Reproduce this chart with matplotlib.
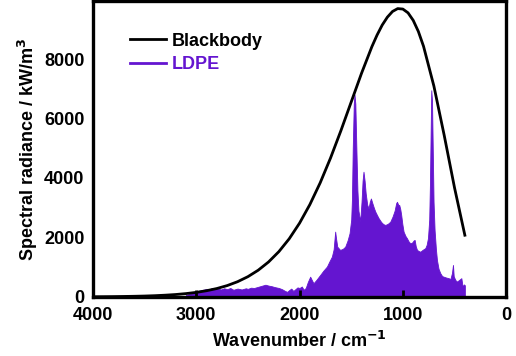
import matplotlib
matplotlib.use("Agg")
import matplotlib.pyplot as plt

plt.rcParams['font.family'] = ['Liberation Sans', 'DejaVu Sans']
plt.rcParams['font.weight'] = 'bold'

# Blackbody curve
bb_wn = [4000, 3900, 3800, 3700, 3600, 3500, 3400, 3300, 3200, 3100, 3000,
         2900, 2800, 2700, 2600, 2500, 2400, 2300, 2200, 2100, 2000, 1900,
         1800, 1700, 1600, 1500, 1400, 1300, 1250, 1200, 1150, 1100, 1050,
         1000, 950, 900, 850, 800, 700, 600, 500, 400]
bb_val = [5, 7, 10, 15, 21, 29, 41, 58, 80, 111, 152,
          208, 282, 381, 511, 680, 898, 1175, 1523, 1955, 2480, 3107,
          3839, 4672, 5588, 6556, 7522, 8415, 8805, 9143, 9409, 9601, 9697,
          9681, 9554, 9302, 8927, 8429, 7095, 5436, 3671, 2075]

# LDPE emission spectrum
ldpe_wn = [3100, 3060, 3020, 3000, 2980, 2950, 2920, 2900, 2870, 2850, 2820,
           2800, 2760, 2730, 2700, 2670, 2640, 2600, 2560, 2520, 2500, 2470,
           2440, 2400, 2360, 2330, 2300, 2270, 2240, 2200, 2170, 2140, 2120,
           2100, 2080, 2060, 2040, 2020, 2000, 1978, 1960, 1940, 1920, 1897,
           1880, 1865, 1840, 1800, 1770, 1735, 1710, 1687, 1670, 1660, 1655,
           1648, 1635, 1607, 1580, 1558, 1535, 1516, 1500, 1493, 1485, 1475,
           1468, 1460, 1450, 1440, 1430, 1413, 1400, 1390, 1381, 1370, 1360,
           1345, 1332, 1320, 1309, 1295, 1280, 1267, 1250, 1235, 1210, 1190,
           1170, 1145, 1122, 1100, 1080, 1065, 1057, 1045, 1035, 1025, 1016,
           1005, 993, 975, 960, 945, 928, 910, 895, 886, 875, 863, 845, 831,
           810, 783, 770, 757, 745, 738, 730, 725, 718, 710, 703, 693, 680,
           670, 655, 638, 620, 605, 580, 557, 540, 525, 515, 508, 500, 490,
           476, 460, 445, 434, 425, 418, 410, 402, 400]
ldpe_val = [60, 110, 170, 150, 200, 230, 250, 270, 240, 300, 280,
            290, 250, 290, 260, 300, 240, 280, 250, 290, 270, 310,
            300, 340, 380, 410, 380, 360, 330, 300, 260, 200, 170,
            230, 280, 200, 260, 320, 300, 350, 240, 300, 500, 680,
            560, 460, 560, 740, 880, 1020, 1200, 1355, 1600, 2000, 2195,
            2000, 1690, 1580, 1620, 1690, 1900, 2140, 2600, 3260, 5000, 6500,
            6800, 6500, 5000, 3600, 2900, 2550, 3200, 3900, 4210, 3900, 3490,
            3100, 2980, 3200, 3310, 3150, 2990, 2870, 2750, 2650, 2520, 2450,
            2420, 2460, 2530, 2700, 2900, 3150, 3200, 3100, 3090, 2950, 2755,
            2450, 2195, 2050, 1970, 1870, 1800, 1830, 1900, 1915, 1700, 1580, 1540, 1520,
            1580, 1640, 1750, 1980, 2600, 3800, 5800, 6950, 6600, 4800, 3200, 2250, 1600,
            1240, 950, 800, 700, 680, 650, 630, 600, 800, 1075, 700, 630, 560,
            515, 560, 600, 630, 420, 350, 420, 400, 380]

purple = '#6415D0'

fig = plt.figure(figsize=(5.16, 3.56), dpi=100)
ax = fig.add_axes([0.180, 0.166, 0.801, 0.831])

ax.fill_between(ldpe_wn, 0, ldpe_val, color=purple, linewidth=0.6, edgecolor=purple)
ax.plot([], [], color=purple, lw=2, label='LDPE')
ax.plot(bb_wn, bb_val, color='black', lw=2.0, label='Blackbody')

ax.set_xlim(4000, 0)
ax.set_ylim(0, 9950)
ax.set_xticks([4000, 3000, 2000, 1000, 0])
ax.set_yticks([0, 2000, 4000, 6000, 8000])

for s in ax.spines.values():
    s.set_linewidth(2.4)

ax.tick_params(axis='x', direction='in', length=5, width=2, labelsize=13, pad=7)
ax.tick_params(axis='y', length=0, labelsize=13, pad=6)
for lab in ax.get_xticklabels() + ax.get_yticklabels():
    lab.set_fontweight('bold')

ax.set_xlabel('Wavenumber / cm$^{\\mathbf{-1}}$', fontsize=13, fontweight='bold', labelpad=5)
ax.set_ylabel('Spectral radiance / kW/m$^{\\mathbf{3}}$', fontsize=13, fontweight='bold', labelpad=3)

h, l = ax.get_legend_handles_labels()
leg = ax.legend([h[1], h[0]], [l[1], l[0]], loc='upper left', bbox_to_anchor=(0.05, 0.948),
                frameon=False, handlelength=2.0, handletextpad=0.3,
                labelspacing=0.35, labelcolor='linecolor', prop={'weight': 'bold', 'size': 13})

fig.savefig('out.png', dpi=100)
